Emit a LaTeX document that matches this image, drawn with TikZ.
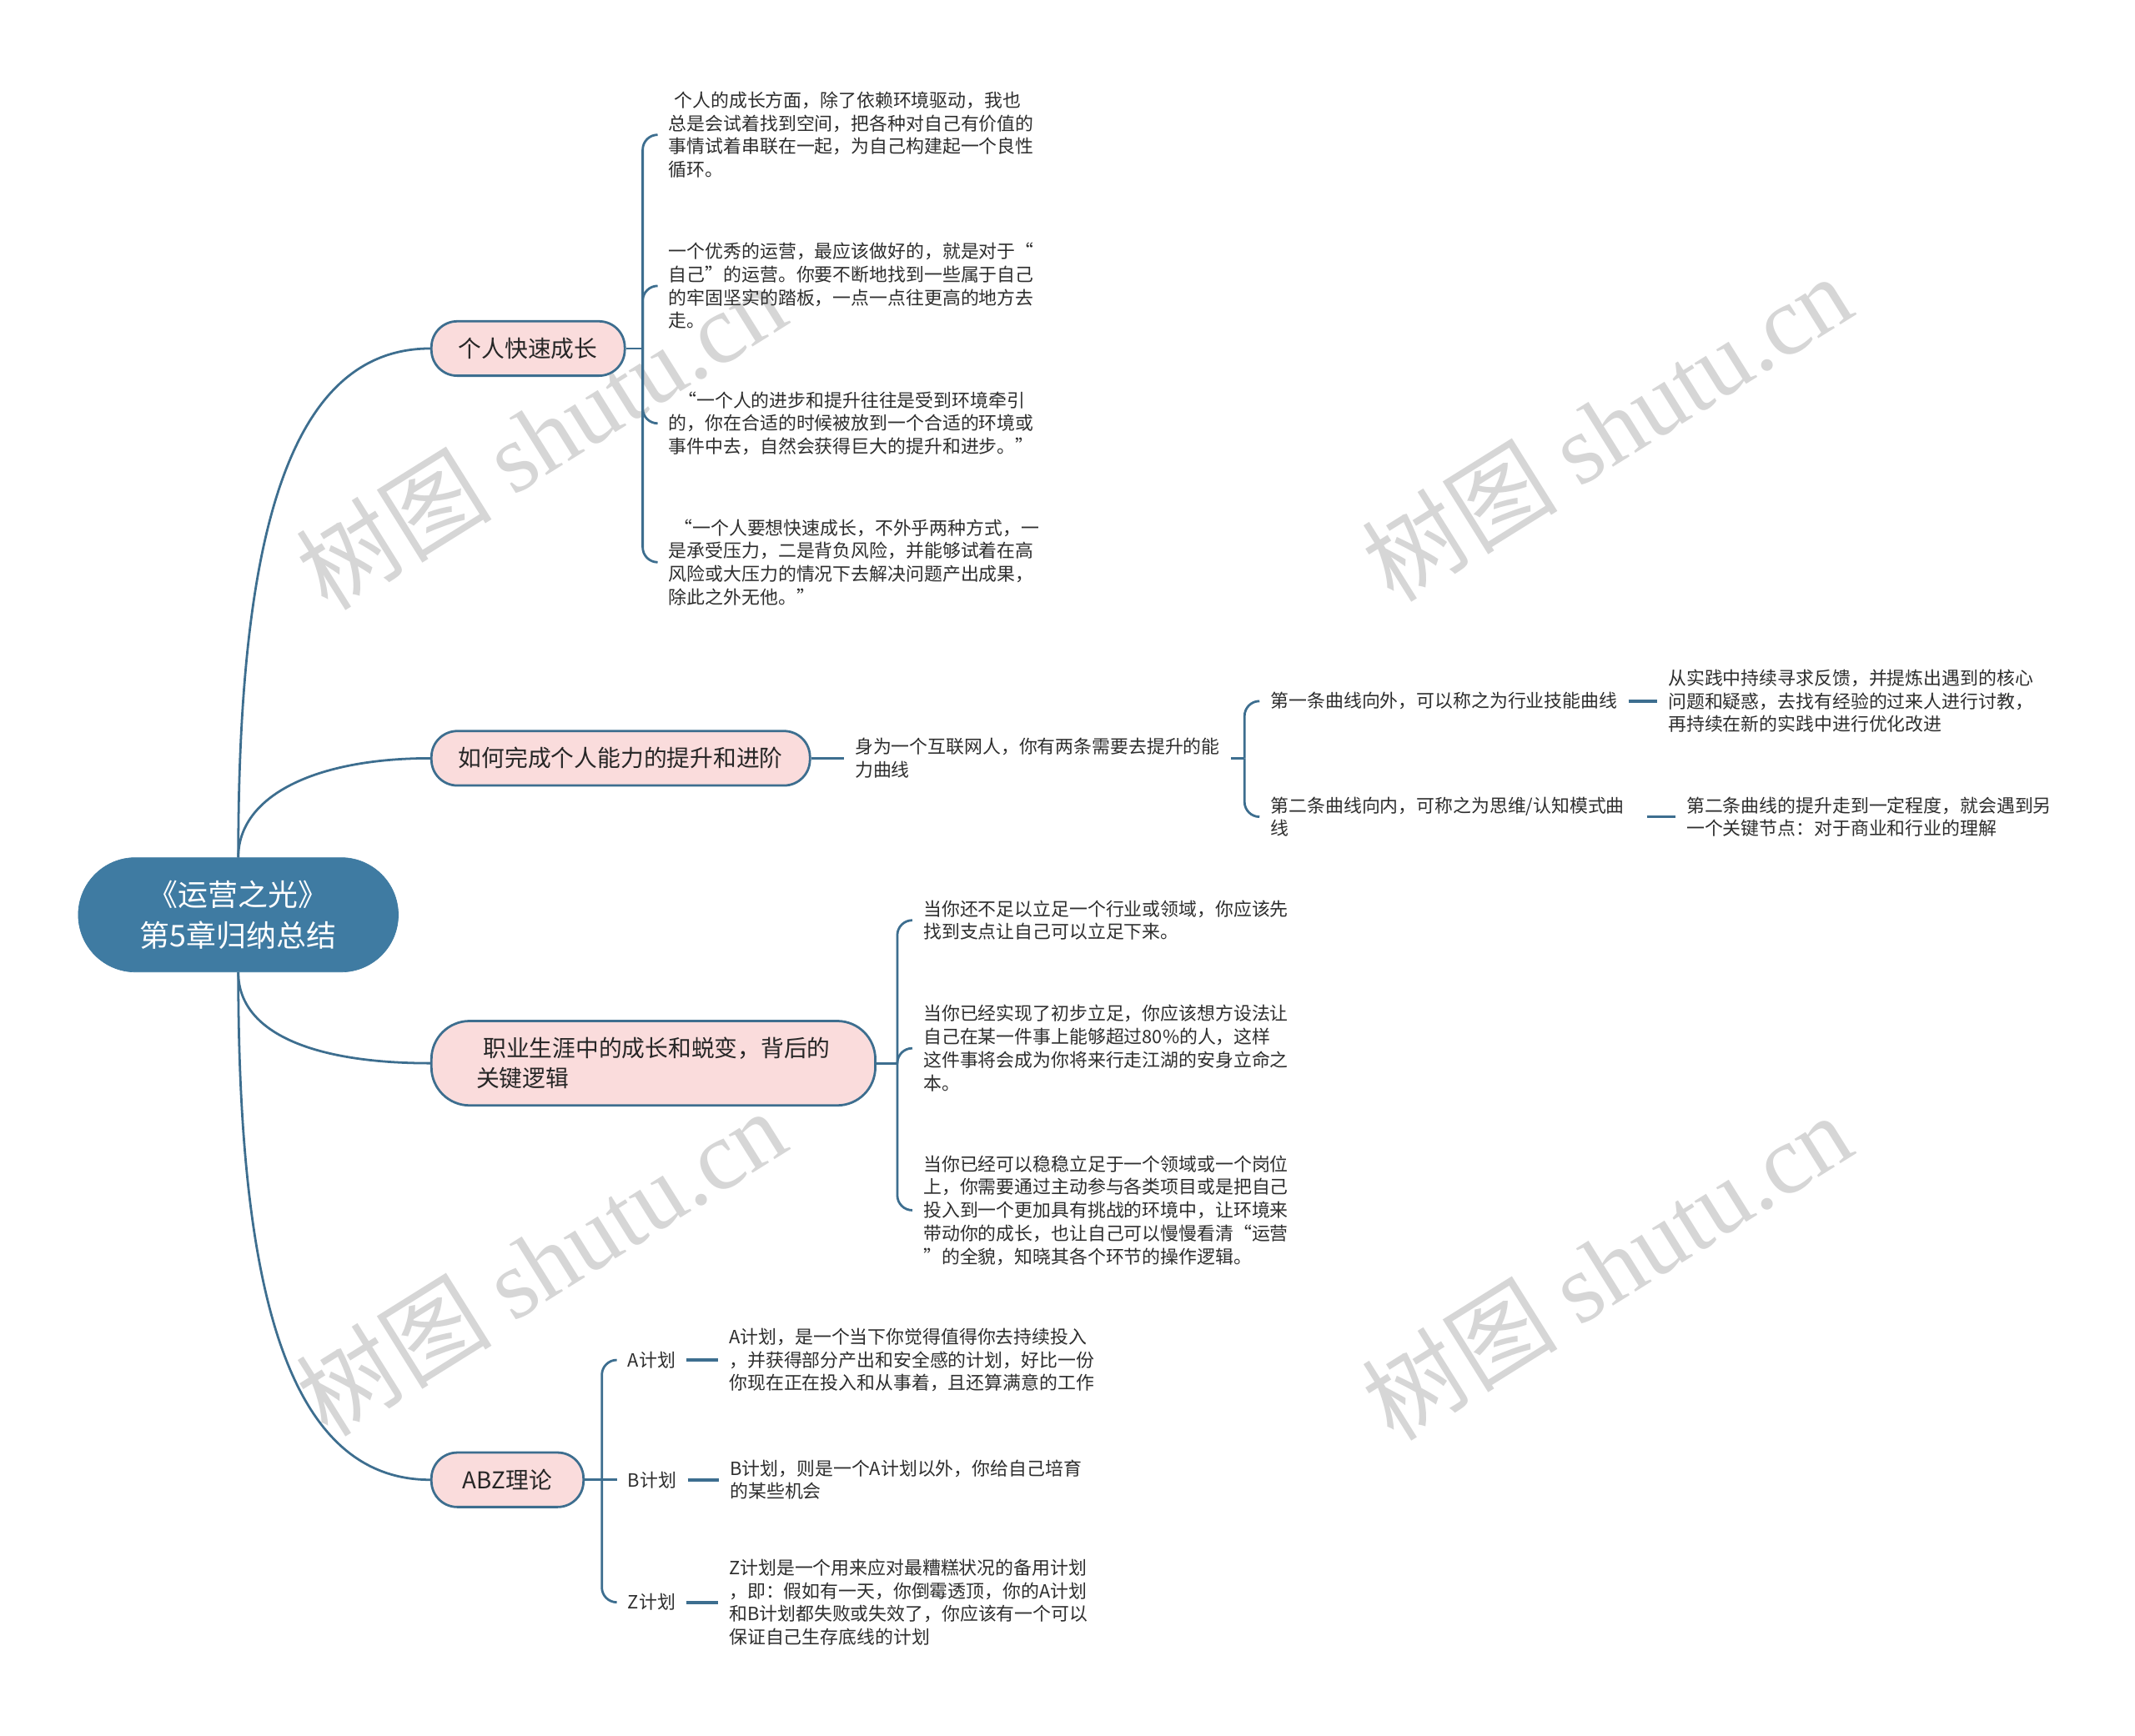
\documentclass[tikz,border=0pt]{standalone}
\usepackage{fontspec}
\setmainfont{Noto Sans CJK SC}
\newfontfamily\markfont{Liberation Serif}
\usepackage{xcolor}
\usetikzlibrary{positioning}
\definecolor{mapBlue}{HTML}{3D6E8F}
\definecolor{mapRoot}{HTML}{3F7BA2}
\definecolor{mapPink}{HTML}{FADCDC}
\definecolor{mapText}{HTML}{2E2E2E}
\definecolor{mapMark}{HTML}{D6D6D6}

\begin{document}
\begin{tikzpicture}[
  x=1pt,y=-1pt,
  rootbox/.style={rectangle,rounded corners=42pt,fill=mapRoot,draw=mapRoot,text=white,align=center,minimum width=235pt,minimum height=84pt,font=\fontsize{22}{30}\selectfont},
  topicbox/.style={rectangle,rounded corners=19pt,draw=mapBlue,fill=mapPink,line width=1.7pt,anchor=west,align=left,minimum height=40pt,inner xsep=20pt,text=black!85,font=\fontsize{17}{22}\selectfont},
  leafbox/.style={anchor=west,align=left,inner xsep=8pt,inner ysep=2pt,text=mapText,font=\fontsize{13.4}{17}\selectfont},
  widebox/.style={leafbox,text width=268pt},
  linkline/.style={draw=mapBlue,line width=1.7pt},
  brace/.style={linkline,rounded corners=11pt},
  stubline/.style={draw=mapBlue,line width=2.3pt},
  markbox/.style={text=mapMark,rotate=32,font=\fontsize{72}{72}\selectfont}
]
\fill[white] (0,0) rectangle (1568,1275);
\useasboundingbox (0,0) rectangle (1568,1275);

\node[markbox] (m1) at (397,320) {树图 {\markfont shutu.cn}};
\node[markbox] (m2) at (1180,314) {树图 {\markfont shutu.cn}};
\node[markbox] (m3) at (397,927) {树图 {\markfont shutu.cn}};
\node[markbox] (m4) at (1180,930) {树图 {\markfont shutu.cn}};

\node[rootbox] (r) at (175,672) {《运营之光》\\第5章归纳总结};

\node[topicbox] (b1) at (316,256) {个人快速成长};
\node[topicbox] (b2) at (316,557) {如何完成个人能力的提升和进阶};
\node[topicbox,rounded corners=28pt,minimum height=62pt,inner xsep=33pt] (b3) at (316,781) {\hspace*{5pt}职业生涯中的成长和蜕变，背后的\\关键逻辑};
\node[topicbox,inner xsep=23pt] (b4) at (316,1087) {ABZ理论};

\draw[linkline] (r.north) .. controls +(0,-230) and +(-106,0) .. (b1.west);
\draw[linkline] (r.north) .. controls +(0,-45) and +(-85,0) .. (b2.west);
\draw[linkline] (r.south) .. controls +(0,45) and +(-85,0) .. (b3.west);
\draw[linkline] (r.south) .. controls +(0,230) and +(-106,0) .. (b4.west);

\node[leafbox] (l11) at (483,99) {\hspace*{4pt}个人的成长方面，除了依赖环境驱动，我也\\总是会试着找到空间，把各种对自己有价值的\\事情试着串联在一起，为自己构建起一个良性\\循环。};
\node[leafbox] (l12) at (483,210) {一个优秀的运营，最应该做好的，就是对于“\\自己”的运营。你要不断地找到一些属于自己\\的牢固坚实的踏板，一点一点往更高的地方去\\走。};
\node[leafbox] (l13) at (483,311) {\hspace*{7pt}“一个人的进步和提升往往是受到环境牵引\\的，你在合适的时候被放到一个合适的环境或\\事件中去，自然会获得巨大的提升和进步。”};
\node[leafbox] (l14) at (483,413) {\hspace*{4pt}“一个人要想快速成长，不外乎两种方式，一\\是承受压力，二是背负风险，并能够试着在高\\风险或大压力的情况下去解决问题产出成果，\\除此之外无他。”};
\coordinate (j1) at (472,256);
\draw[linkline] (b1) -- (j1);
\foreach \n in {l11,l12,l13,l14}
  \draw[brace] (j1) |- (\n.west);

\node[widebox,right=24pt of b2] (l21) {身为一个互联网人，你有两条需要去提升的能\\力曲线};
\draw[linkline] (b2) -- (l21);
\coordinate (j2) at (914,557);
\draw[linkline] (l21) -- (j2);
\node[leafbox] (l22) at (925,515) {第一条曲线向外，可以称之为行业技能曲线};
\node[widebox] (l23) at (925,600) {第二条曲线向内，可称之为思维/认知模式曲\\线};
\draw[brace] (j2) |- (l22.west);
\draw[brace] (j2) |- (l23.west);
\node[leafbox,right=21pt of l22] (l24) {从实践中持续寻求反馈，并提炼出遇到的核心\\问题和疑惑，去找有经验的过来人进行讨教，\\再持续在新的实践中进行优化改进};
\node[leafbox,right=21pt of l23] (l25) {第二条曲线的提升走到一定程度，就会遇到另\\一个关键节点：对于商业和行业的理解};
\draw[stubline] (l22) -- (l24);
\draw[stubline] (l23) -- (l25);

\node[leafbox] (l31) at (670,676) {当你还不足以立足一个行业或领域，你应该先\\找到支点让自己可以立足下来。};
\node[leafbox] (l32) at (670,770) {当你已经实现了初步立足，你应该想方设法让\\自己在某一件事上能够超过80\%的人，这样\\这件事将会成为你将来行走江湖的安身立命之\\本。};
\node[leafbox] (l33) at (670,889) {当你已经可以稳稳立足于一个领域或一个岗位\\上，你需要通过主动参与各类项目或是把自己\\投入到一个更加具有挑战的环境中，让环境来\\带动你的成长，也让自己可以慢慢看清“运营\\”的全貌，知晓其各个环节的操作逻辑。};
\coordinate (j3) at (659,781);
\draw[linkline] (b3) -- (j3);
\foreach \n in {l31,l32,l33}
  \draw[brace] (j3) |- (\n.west);

\node[leafbox] (la) at (453,999) {A计划};
\node[leafbox] (lb) at (453,1087) {B计划};
\node[leafbox] (lz) at (453,1177) {Z计划};
\coordinate (j4) at (442,1087);
\draw[linkline] (b4) -- (j4);
\draw[brace] (j4) |- (la.west);
\draw[linkline] (j4) -- (lb.west);
\draw[brace] (j4) |- (lz.west);
\node[leafbox,right=23pt of la] (ta) {A计划，是一个当下你觉得值得你去持续投入\\，并获得部分产出和安全感的计划，好比一份\\你现在正在投入和从事着，且还算满意的工作};
\node[leafbox,right=23pt of lb] (tb) {B计划，则是一个A计划以外，你给自己培育\\的某些机会};
\node[leafbox,right=23pt of lz] (tz) {Z计划是一个用来应对最糟糕状况的备用计划\\，即：假如有一天，你倒霉透顶，你的A计划\\和B计划都失败或失效了，你应该有一个可以\\保证自己生存底线的计划};
\draw[stubline] (la) -- (ta);
\draw[stubline] (lb) -- (tb);
\draw[stubline] (lz) -- (tz);
\end{tikzpicture}
\end{document}
